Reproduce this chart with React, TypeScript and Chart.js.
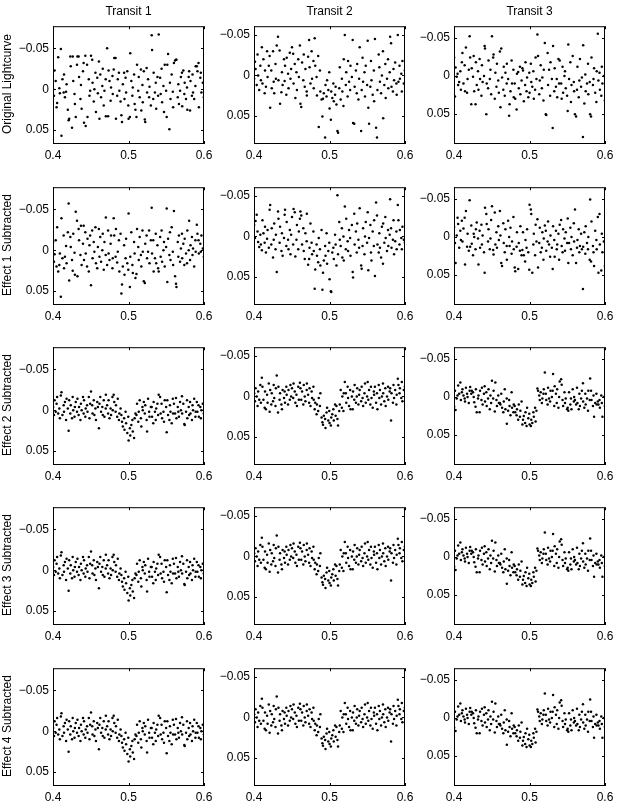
import React, { useEffect, useRef } from "react";
import { Chart, registerables } from "chart.js";

Chart.register(...registerables);

// ---------------- DATA ----------------
const COLUMN_TITLES = ["Transit 1", "Transit 2", "Transit 3"];
const ROW_LABELS = [
  "Original Lightcurve",
  "Effect 1 Subtracted",
  "Effect 2 Subtracted",
  "Effect 3 Subtracted",
  "Effect 4 Subtracted",
];
const X_TICKS = [0.4, 0.5, 0.6];
const Y_TICKS = [-0.05, 0, 0.05];
const Y_MIN = [-0.077, -0.061, -0.065];
const Y_MAX = [0.067, 0.085, 0.089];

// sample phase (shared time stamps)
const TIME = [
  0.4002, 0.4013, 0.4021, 0.4036, 0.4047, 0.4055, 0.4069, 0.4084, 0.4091,
  0.4104, 0.4112, 0.4125, 0.4141, 0.4146, 0.4158, 0.4173, 0.418, 0.4196,
  0.4207, 0.4214, 0.4229, 0.4235, 0.4252, 0.4261, 0.4268, 0.4285, 0.429,
  0.4301, 0.4318, 0.4324, 0.4339, 0.4345, 0.4363, 0.437, 0.4379, 0.4397,
  0.4406, 0.4411, 0.4428, 0.4433, 0.4451, 0.4457, 0.4474, 0.4483, 0.4492,
  0.4503, 0.4519, 0.4524, 0.454, 0.4548, 0.4562, 0.4569, 0.4586, 0.4594,
  0.4608, 0.4615, 0.4626, 0.4637, 0.4653, 0.4659, 0.4672, 0.4681, 0.4698,
  0.47, 0.4717, 0.473, 0.4736, 0.4748, 0.4763, 0.4769, 0.4787, 0.4791,
  0.4804, 0.4811, 0.4829, 0.4834, 0.485, 0.4858, 0.4873, 0.4879, 0.4895,
  0.4906, 0.4914, 0.4925, 0.4942, 0.4947, 0.4961, 0.4968, 0.4984, 0.4997,
  0.5001, 0.5018, 0.5023, 0.5037, 0.5051, 0.5057, 0.5074, 0.5081, 0.5092,
  0.5105, 0.5113, 0.5129, 0.5136, 0.5148, 0.5164, 0.517, 0.5185, 0.5189,
  0.5203, 0.5216, 0.5222, 0.524, 0.5246, 0.5259, 0.5273, 0.5278, 0.5296,
  0.5307, 0.5312, 0.5328, 0.5333, 0.535, 0.5361, 0.5367, 0.5383, 0.5392,
  0.54, 0.5419, 0.5426, 0.5438, 0.5445, 0.5463, 0.547, 0.548, 0.5498,
  0.5506, 0.5514, 0.5524, 0.5541, 0.5549, 0.5556, 0.5572, 0.5587, 0.5591,
  0.5602, 0.5617, 0.5629, 0.5635, 0.5652, 0.566, 0.5668, 0.5683, 0.5694,
  0.5708, 0.5711, 0.5726, 0.5739, 0.5744, 0.5762, 0.5775, 0.5779, 0.5797,
  0.5803, 0.5815, 0.5821, 0.584, 0.5848, 0.5855, 0.587, 0.5886, 0.589,
  0.5905, 0.5913, 0.5927, 0.5932, 0.5951, 0.5958, 0.5966, 0.5984, 0.5998,
];

// Transit 1
const ORIG_T1 = [
  0.0, 0.008, -0.023, -0.01, 0.022, 0.017, -0.039, -0.001, 0.005,
  -0.049, 0.057, -0.012, 0.004, -0.018, 0.01, 0.003, -0.006, 0.025,
  0.038, 0.036, -0.04, -0.028, 0.047, -0.04, -0.01, 0.006, 0.018,
  0.034, -0.03, -0.04, -0.04, -0.015, 0.012, -0.005, 0.024, -0.022,
  -0.032, 0.041, -0.041, 0.045, -0.03, 0.034, -0.012, 0.008, 0.002,
  -0.041, -0.036, -0.008, 0.015, 0.0, -0.02, 0.028, -0.014, 0.005,
  -0.034, 0.036, -0.018, 0.01, -0.004, -0.025, 0.02, 0.002, -0.012,
  0.033, -0.05, 0.033, -0.023, -0.01, 0.014, -0.002, -0.016, 0.006,
  -0.024, -0.038, -0.038, 0.036, 0.008, -0.012, -0.02, 0.002, 0.015,
  0.032, 0.04, -0.006, -0.02, 0.012, -0.014, 0.004, -0.022, 0.02,
  0.036, 0.034, -0.044, -0.01, 0.008, -0.002, -0.018, 0.018, 0.025,
  0.034, -0.03, 0.002, -0.015, 0.01, -0.024, 0.026, -0.005, 0.016,
  -0.022, 0.037, 0.04, -0.026, 0.004, -0.012, 0.01, -0.003, 0.02,
  -0.066, -0.048, 0.012, -0.02, 0.004, -0.008, 0.024, -0.015, 0.008,
  -0.067, -0.014, 0.006, -0.025, 0.016, -0.004, 0.028, -0.03, 0.002,
  0.034, -0.03, -0.043, 0.049, -0.008, 0.012, -0.018, 0.003, 0.022,
  -0.032, -0.035, -0.036, -0.036, 0.01, -0.006, 0.018, 0.002, -0.015,
  -0.02, 0.021, -0.023, 0.006, -0.008, 0.012, -0.002, 0.025, -0.015,
  -0.022, 0.026, -0.01, 0.008, -0.018, 0.004, 0.012, -0.004, -0.028,
  -0.028, -0.022, -0.032, 0.022, -0.014, -0.02, 0.004, -0.008, 0.01,
];
const EFF1_T1 = [
  -0.01, 0.014, 0.005, -0.012, 0.02, -0.028, 0.026, 0.018, 0.004,
  0.057, -0.039, 0.01, -0.018, 0.022, 0.008, -0.005, 0.016, -0.022,
  -0.057, 0.037, -0.016, -0.004, 0.012, 0.025, -0.02, 0.003, 0.03,
  -0.047, -0.036, 0.032, -0.026, -0.012, 0.006, -0.03, 0.018, -0.008,
  -0.03, 0.012, -0.022, 0.004, 0.02, -0.014, 0.026, -0.006, -0.018,
  0.043, -0.024, 0.01, -0.01, 0.002, -0.028, 0.016, 0.022, -0.004,
  -0.026, 0.008, -0.016, 0.014, 0.0, -0.02, 0.024, -0.01, 0.006,
  -0.04, 0.018, -0.024, 0.004, 0.012, -0.008, -0.018, 0.022, 0.01,
  -0.039, -0.018, 0.008, -0.026, 0.015, 0.002, -0.012, 0.026, -0.02,
  0.053, 0.042, 0.02, -0.006, 0.03, 0.01, -0.014, 0.016, 0.024,
  -0.045, 0.045, 0.008, -0.022, 0.018, 0.028, -0.01, 0.004, 0.034,
  0.029, -0.026, -0.004, 0.012, -0.016, 0.006, 0.02, -0.024, 0.002,
  0.038, 0.04, -0.008, -0.018, 0.01, 0.002, -0.024, 0.016, -0.012,
  -0.052, 0.004, -0.012, 0.026, 0.01, -0.02, 0.016, -0.006, 0.022,
  0.026, -0.016, 0.008, -0.024, 0.014, 0.0, -0.01, 0.02, -0.004,
  -0.051, 0.039, -0.014, 0.006, -0.022, 0.012, -0.028, 0.002, 0.018,
  -0.048, 0.032, 0.041, 0.045, -0.01, 0.008, -0.018, 0.014, -0.002,
  -0.02, 0.01, -0.008, 0.018, -0.014, 0.004, 0.016, -0.024, 0.0,
  -0.036, 0.012, -0.006, -0.016, 0.006, -0.002, 0.02, -0.012, 0.002,
  -0.031, -0.02, -0.012, 0.004, -0.008, 0.002, -0.018, -0.002, 0.008,
];
const EFF2_T1 = [
  -0.004, 0.006, -0.012, 0.002, -0.008, -0.016, 0.004, -0.002, 0.01,
  -0.018, -0.022, 0.006, -0.006, 0.002, -0.01, 0.012, -0.014, -0.002,
  0.025, -0.012, 0.004, -0.006, 0.01, -0.016, 0.0, 0.008, -0.004,
  -0.01, 0.002, -0.014, 0.006, -0.004, 0.012, -0.008, 0.0, -0.016,
  0.004, -0.012, 0.008, -0.002, -0.006, 0.002, -0.016, 0.01, -0.008,
  -0.023, -0.006, 0.004, -0.012, 0.006, -0.002, 0.012, -0.01, -0.004,
  0.022, -0.008, -0.016, 0.002, -0.004, 0.006, -0.012, 0.008, -0.002,
  -0.019, -0.006, 0.004, -0.012, 0.01, -0.002, 0.006, -0.016, 0.0,
  -0.019, -0.01, 0.002, -0.006, 0.008, -0.014, 0.012, 0.004, -0.002,
  0.006, 0.014, 0.02, 0.01, 0.024, 0.002, 0.016, 0.028, 0.008,
  0.037, 0.022, 0.031, 0.018, 0.012, 0.026, 0.034, 0.01, 0.004,
  0.006, -0.008, 0.014, 0.002, -0.012, 0.01, 0.02, -0.004, 0.0,
  -0.01, 0.004, -0.006, 0.012, 0.026, -0.014, 0.002, 0.008, -0.004,
  -0.004, 0.008, 0.016, -0.01, 0.002, 0.012, -0.002, -0.008, 0.006,
  -0.019, -0.016, 0.004, -0.008, 0.01, 0.002, 0.014, -0.012, -0.004,
  0.027, -0.012, 0.006, 0.012, -0.006, 0.002, 0.016, -0.014, 0.004,
  -0.008, 0.004, -0.015, 0.01, -0.004, 0.002, 0.008, -0.01, 0.0,
  -0.017, 0.004, -0.008, 0.017, 0.018, 0.002, -0.012, 0.01, -0.004,
  0.006, -0.01, 0.004, 0.012, -0.006, 0.0, -0.014, 0.008, 0.002,
  -0.01, 0.002, -0.006, 0.008, -0.004, 0.01, 0.0, -0.008, 0.004,
];

// Transit 2
const ORIG_T2 = [
  0.004, -0.017, -0.008, 0.012, -0.026, 0.0, 0.018, -0.012, 0.006,
  -0.035, 0.01, -0.02, 0.022, -0.006, 0.014, -0.03, 0.002, -0.012,
  -0.024, 0.04, -0.006, 0.016, -0.03, 0.008, 0.022, -0.014, 0.004,
  -0.037, -0.048, 0.006, -0.031, 0.035, 0.021, -0.004, 0.012, -0.02,
  0.007, -0.012, 0.024, -0.022, -0.002, 0.016, -0.028, 0.004, -0.008,
  -0.035, -0.027, 0.01, -0.014, 0.028, -0.004, 0.018, -0.02, 0.002,
  -0.037, 0.035, 0.039, -0.016, 0.006, -0.026, 0.014, -0.008, 0.02,
  0.025, -0.023, -0.044, -0.01, 0.01, -0.03, 0.004, -0.018, 0.016,
  -0.046, -0.012, 0.002, 0.025, -0.024, 0.064, -0.006, 0.02, 0.03,
  0.051, 0.029, 0.022, 0.077, 0.012, 0.026, 0.006, 0.018, -0.004,
  0.041, 0.055, 0.02, 0.028, 0.01, 0.032, 0.024, 0.014, 0.036,
  0.069, 0.071, 0.016, -0.01, 0.03, 0.004, 0.02, 0.038, -0.02,
  -0.05, 0.012, -0.004, 0.026, -0.018, 0.008, 0.018, -0.012, 0.002,
  -0.044, 0.059, 0.06, 0.014, -0.006, 0.022, -0.014, 0.03, 0.004,
  -0.035, 0.069, 0.018, -0.022, 0.008, -0.004, 0.026, -0.012, 0.012,
  -0.043, 0.04, 0.06, 0.014, -0.018, 0.006, 0.024, -0.006, 0.032,
  -0.045, 0.065, 0.077, 0.018, -0.026, -0.01, 0.008, 0.022, 0.0,
  -0.03, 0.053, 0.012, -0.014, 0.028, 0.004, -0.02, 0.016, -0.004,
  -0.048, -0.04, 0.014, 0.02, -0.008, 0.006, -0.016, 0.01, 0.024,
  -0.05, 0.008, -0.012, 0.004, -0.002, 0.02, -0.018, 0.01, -0.006,
];
const EFF1_T2 = [
  -0.014, 0.002, -0.019, -0.027, -0.006, 0.007, 0.013, -0.002, 0.01,
  0.017, -0.02, -0.004, 0.008, -0.012, 0.02, 0.003, -0.008, 0.014,
  -0.033, -0.039, 0.01, -0.01, 0.026, 0.004, -0.016, 0.016, -0.002,
  0.044, -0.031, -0.022, 0.008, -0.012, 0.018, -0.004, 0.024, 0.002,
  -0.027, -0.033, 0.012, -0.018, 0.004, 0.016, -0.008, 0.022, -0.002,
  -0.024, 0.01, -0.034, -0.03, 0.025, 0.004, -0.014, 0.016, -0.006,
  -0.022, -0.031, -0.026, 0.01, -0.01, 0.018, 0.028, -0.004, 0.006,
  -0.028, 0.035, 0.028, 0.014, -0.016, 0.008, 0.022, -0.006, 0.018,
  0.065, 0.041, 0.01, 0.024, 0.032, 0.002, 0.016, 0.036, -0.008,
  0.066, 0.045, 0.03, 0.012, 0.024, -0.004, 0.034, 0.018, 0.008,
  0.053, 0.068, 0.069, 0.02, 0.014, 0.028, -0.002, 0.01, 0.036,
  -0.051, 0.022, -0.018, 0.004, 0.012, -0.01, 0.026, 0.0, 0.03,
  -0.037, 0.016, -0.022, 0.006, 0.018, -0.008, 0.002, 0.024, -0.014,
  0.044, 0.051, -0.028, 0.01, -0.006, 0.02, -0.016, 0.004, 0.014,
  -0.035, 0.036, 0.04, 0.012, -0.01, 0.022, 0.0, -0.018, 0.008,
  -0.03, 0.042, 0.002, -0.014, 0.02, 0.03, -0.006, 0.012, -0.02,
  0.049, -0.042, -0.026, 0.01, 0.02, -0.004, 0.014, 0.026, -0.012,
  0.034, -0.016, 0.008, -0.024, 0.002, 0.018, -0.008, 0.012, -0.002,
  -0.046, -0.01, 0.014, 0.004, -0.02, 0.022, 0.006, -0.006, 0.016,
  -0.039, -0.02, 0.01, -0.008, 0.002, 0.016, -0.012, 0.004, 0.008,
];
const EFF2_T2 = [
  -0.004, 0.006, -0.01, 0.0, 0.012, -0.006, 0.004, -0.014, 0.008,
  -0.023, -0.012, 0.004, 0.014, -0.006, 0.016, -0.002, 0.008, -0.016,
  0.019, -0.008, 0.01, -0.004, 0.006, -0.014, 0.002, 0.012, -0.01,
  -0.026, 0.02, -0.012, 0.004, -0.004, 0.01, 0.016, -0.008, 0.002,
  -0.006, 0.008, -0.012, -0.002, 0.01, -0.008, 0.004, -0.014, 0.0,
  -0.01, 0.002, -0.016, -0.006, 0.008, -0.002, 0.012, -0.012, 0.004,
  -0.017, -0.01, 0.004, -0.006, 0.01, -0.014, 0.0, 0.006, -0.008,
  -0.016, -0.002, 0.008, -0.01, 0.012, -0.006, 0.002, -0.012, 0.004,
  0.016, 0.008, 0.022, 0.01, 0.018, 0.002, 0.012, -0.004, 0.026,
  0.032, 0.035, 0.024, 0.028, 0.039, 0.02, 0.014, 0.03, 0.018,
  0.033, 0.036, 0.026, 0.022, 0.016, 0.03, 0.01, 0.024, 0.012,
  0.028, 0.036, 0.018, 0.01, -0.008, 0.014, 0.0, 0.018, -0.004,
  -0.018, -0.004, 0.008, -0.012, 0.002, 0.012, -0.008, 0.016, 0.0,
  0.016, -0.006, 0.004, -0.014, 0.008, 0.0, -0.01, 0.01, -0.002,
  -0.008, 0.006, -0.012, 0.002, 0.012, -0.004, -0.016, 0.008, 0.0,
  -0.018, 0.004, -0.008, 0.01, -0.012, 0.002, 0.014, -0.006, -0.002,
  -0.012, 0.008, -0.004, 0.016, -0.014, 0.002, -0.008, 0.01, 0.0,
  -0.016, -0.004, 0.006, -0.01, 0.012, 0.0, -0.012, 0.004, -0.006,
  -0.01, 0.03, -0.004, 0.008, -0.014, 0.002, -0.008, 0.01, -0.002,
  -0.022, -0.014, -0.004, -0.01, 0.002, -0.018, 0.006, -0.008, -0.012,
];

// Transit 3
const ORIG_T3 = [
  -0.024, 0.027, -0.011, 0.001, -0.003, 0.012, 0.008, -0.006, 0.018,
  -0.018, -0.03, 0.01, -0.014, 0.02, -0.037, 0.022, 0.004, -0.008,
  -0.052, -0.024, 0.037, -0.01, 0.001, -0.026, 0.02, 0.037, -0.018,
  0.012, -0.006, 0.018, -0.022, 0.004, 0.026, -0.014, 0.008, 0.0,
  -0.039, -0.036, 0.05, 0.01, 0.016, -0.02, 0.004, -0.008, 0.024,
  -0.052, -0.024, -0.028, 0.03, -0.004, 0.014, -0.016, 0.006, 0.022,
  -0.032, 0.041, -0.036, 0.002, 0.018, -0.012, 0.026, -0.004, 0.01,
  -0.016, 0.004, 0.052, 0.037, 0.02, -0.02, 0.01, -0.008, 0.028,
  0.01, 0.03, 0.044, -0.003, -0.005, 0.016, -0.012, 0.024, 0.006,
  -0.01, -0.007, 0.033, 0.012, -0.018, 0.02, 0.002, 0.028, -0.004,
  0.022, -0.016, 0.008, 0.014, -0.006, 0.03, 0.018, -0.024, 0.004,
  -0.054, -0.026, 0.024, 0.006, -0.014, 0.016, 0.002, 0.032, -0.008,
  -0.043, 0.05, 0.051, -0.03, 0.012, -0.008, 0.026, -0.018, 0.004,
  0.068, -0.039, 0.02, -0.01, 0.014, 0.004, 0.028, -0.022, 0.01,
  -0.02, 0.01, 0.03, -0.012, 0.022, 0.0, -0.006, 0.016, 0.026,
  0.046, -0.041, 0.004, -0.018, 0.034, 0.012, -0.026, 0.008, 0.02,
  0.05, 0.053, 0.018, -0.012, 0.028, 0.006, -0.022, 0.014, 0.002,
  0.08, -0.04, 0.036, -0.002, 0.02, 0.01, -0.016, 0.024, 0.008,
  0.05, 0.053, -0.024, 0.012, 0.004, -0.01, 0.022, 0.034, -0.006,
  -0.055, 0.006, -0.004, 0.018, 0.026, -0.012, 0.01, 0.0, 0.032,
];
const EFF1_T3 = [
  -0.013, 0.008, 0.034, -0.002, -0.025, -0.017, 0.014, -0.008, 0.004,
  -0.021, 0.006, -0.011, -0.025, 0.036, -0.034, 0.013, -0.004, 0.018,
  -0.048, 0.013, -0.015, 0.009, 0.024, -0.004, 0.0, 0.016, -0.01,
  -0.019, 0.002, 0.036, -0.008, 0.014, -0.016, 0.01, -0.002, 0.02,
  0.047, -0.038, -0.03, -0.017, 0.006, -0.01, 0.016, 0.002, -0.022,
  -0.04, 0.017, 0.023, -0.032, 0.01, -0.006, 0.014, -0.014, 0.004,
  -0.034, -0.002, 0.034, 0.038, -0.018, 0.008, 0.02, -0.01, 0.012,
  0.03, -0.021, 0.0, 0.012, -0.012, 0.022, 0.006, -0.026, 0.016,
  0.04, 0.045, 0.013, -0.006, 0.042, 0.008, 0.018, -0.014, 0.024,
  0.017, -0.006, 0.024, 0.032, 0.004, 0.014, -0.01, 0.02, 0.043,
  -0.042, -0.036, -0.03, 0.047, 0.01, -0.004, 0.024, -0.016, 0.006,
  -0.023, 0.04, 0.008, -0.012, 0.02, 0.014, -0.006, 0.03, 0.002,
  -0.015, -0.008, 0.018, 0.006, -0.02, 0.01, 0.026, -0.002, 0.014,
  0.042, -0.014, 0.004, 0.026, -0.008, 0.016, 0.01, -0.004, 0.03,
  -0.016, -0.022, 0.012, 0.02, -0.01, 0.002, 0.018, -0.006, 0.008,
  -0.024, 0.034, 0.008, -0.012, 0.016, 0.0, 0.024, -0.018, 0.006,
  -0.036, 0.034, 0.014, 0.004, -0.01, 0.02, 0.012, -0.004, 0.016,
  0.068, 0.013, -0.006, 0.022, -0.014, 0.008, 0.016, 0.0, 0.03,
  -0.049, 0.032, -0.02, 0.012, 0.02, 0.038, -0.008, 0.004, 0.016,
  -0.026, 0.047, -0.03, 0.01, 0.044, -0.004, 0.02, 0.006, 0.038,
];
const EFF2_T3 = [
  0.013, -0.008, 0.017, 0.002, -0.002, -0.015, -0.004, -0.019, 0.004,
  -0.006, -0.01, -0.002, 0.002, 0.006, -0.012, -0.004, 0.0, 0.008,
  -0.008, -0.013, -0.004, -0.008, -0.006, 0.0, 0.007, 0.013, -0.01,
  0.02, 0.002, -0.002, 0.02, -0.008, 0.004, -0.012, 0.01, -0.004,
  -0.014, 0.006, -0.006, 0.012, 0.002, -0.01, 0.016, -0.002, 0.008,
  -0.021, 0.002, -0.008, 0.019, -0.019, 0.004, 0.012, -0.002, 0.008,
  0.008, 0.01, -0.004, 0.014, 0.02, 0.006, -0.01, 0.016, 0.002,
  0.035, 0.018, 0.004, 0.012, 0.024, -0.006, 0.014, 0.02, 0.01,
  0.012, 0.02, 0.024, 0.016, 0.03, 0.01, 0.026, 0.018, 0.006,
  0.036, 0.03, 0.025, 0.034, 0.02, 0.038, 0.014, 0.028, 0.022,
  0.036, 0.038, 0.03, 0.034, 0.02, 0.026, 0.014, 0.032, 0.018,
  -0.011, -0.008, -0.002, 0.004, -0.006, 0.008, 0.002, -0.004, -0.01,
  -0.032, -0.004, 0.004, 0.01, -0.012, 0.002, 0.006, -0.008, 0.0,
  -0.008, -0.03, 0.012, -0.014, -0.004, 0.008, -0.01, 0.014, 0.0,
  -0.02, -0.023, -0.016, 0.004, 0.012, -0.006, 0.008, 0.002, 0.016,
  0.014, 0.018, -0.006, 0.01, 0.002, 0.016, -0.01, 0.006, 0.0,
  0.004, 0.01, -0.012, 0.008, 0.016, -0.004, 0.012, 0.002, -0.008,
  -0.018, 0.006, 0.014, -0.004, 0.01, 0.002, 0.018, -0.008, 0.004,
  -0.024, -0.008, 0.004, 0.012, -0.002, 0.026, 0.008, -0.004, 0.01,
  0.006, 0.01, 0.004, 0.014, -0.002, 0.008, 0.026, 0.0, 0.012,
];
// Effects 3 and 4 leave the curves practically unchanged from Effect 2
const EFF3_T1 = EFF2_T1;
const EFF3_T2 = EFF2_T2;
const EFF3_T3 = EFF2_T3;
const EFF4_T1 = EFF2_T1;
const EFF4_T2 = EFF2_T2;
const EFF4_T3 = EFF2_T3;

const SERIES = [
  [ORIG_T1, ORIG_T2, ORIG_T3],
  [EFF1_T1, EFF1_T2, EFF1_T3],
  [EFF2_T1, EFF2_T2, EFF2_T3],
  [EFF3_T1, EFF3_T2, EFF3_T3],
  [EFF4_T1, EFF4_T2, EFF4_T3],
];

// ---------------- LAYOUT ----------------
const FONT = "'Liberation Sans', Arial, Helvetica, sans-serif";
const BOX_LEFT = [53, 254, 454];
const BOX_TOP = [23, 184, 344, 504, 665];
const BOX_W = 151;
const BOX_H = 121;
const YW = 50;
const PT = 8;
const PR = 14;
const XH = 24;

const boxPlugin = {
  id: "matlabBox",
  afterDraw(chart: any) {
    const { ctx, chartArea, scales } = chart;
    const { left, top, right, bottom } = chartArea;
    ctx.save();
    ctx.strokeStyle = "#000";
    ctx.lineWidth = 1;
    ctx.strokeRect(left + 0.5, top + 0.5, right - left - 1, bottom - top - 1);
    const tl = 3;
    ctx.beginPath();
    for (const v of X_TICKS) {
      const px = Math.round(scales.x.getPixelForValue(v)) + 0.5;
      ctx.moveTo(px, bottom);
      ctx.lineTo(px, bottom - tl);
      ctx.moveTo(px, top);
      ctx.lineTo(px, top + tl);
    }
    for (const v of Y_TICKS) {
      const py = Math.round(scales.y.getPixelForValue(v)) + 0.5;
      ctx.moveTo(left, py);
      ctx.lineTo(left + tl, py);
      ctx.moveTo(right, py);
      ctx.lineTo(right - tl, py);
    }
    ctx.stroke();
    ctx.restore();
  },
};

function Panel({ values, col, left, top }: any) {
  const ref = useRef<HTMLCanvasElement>(null);
  useEffect(() => {
    const chart = new Chart(ref.current as HTMLCanvasElement, {
      type: "scatter",
      data: {
        datasets: [
          {
            data: TIME.map((t, i) => ({ x: t, y: values[i] })),
            pointRadius: 1.25,
            pointHoverRadius: 1.25,
            pointStyle: "circle",
            backgroundColor: "#000",
            borderColor: "#000",
            borderWidth: 0,
          },
        ],
      },
      options: {
        animation: false,
        responsive: false,
        devicePixelRatio: 1,
        events: [],
        layout: { padding: { left: 0, top: PT, right: PR, bottom: 0 } },
        plugins: { legend: { display: false }, tooltip: { enabled: false } },
        scales: {
          x: {
            type: "linear",
            min: 0.4,
            max: 0.6,
            afterBuildTicks: (s: any) => {
              s.ticks = X_TICKS.map((v) => ({ value: v }));
            },
            afterFit: (s: any) => {
              s.height = XH;
            },
            grid: { display: false, drawTicks: false },
            border: { display: false },
            ticks: {
              padding: 4,
              autoSkip: false,
              maxRotation: 0,
              color: "#000",
              font: { family: FONT, size: 12 },
              callback: (v: any) => Number(v).toFixed(1),
            },
          },
          y: {
            type: "linear",
            reverse: true,
            min: Y_MIN[col],
            max: Y_MAX[col],
            afterBuildTicks: (s: any) => {
              s.ticks = Y_TICKS.map((v) => ({ value: v }));
            },
            afterFit: (s: any) => {
              s.width = YW;
            },
            grid: { display: false, drawTicks: false },
            border: { display: false },
            ticks: {
              padding: 4,
              autoSkip: false,
              color: "#000",
              font: { family: FONT, size: 12 },
              callback: (v: any) => {
                const n = Number(v);
                if (Math.abs(n) < 1e-9) return "0";
                return (n < 0 ? "\u2212" : "") + Math.abs(n).toFixed(2);
              },
            },
          },
        },
      },
      plugins: [boxPlugin],
    } as any);
    return () => chart.destroy();
  }, [values, col]);
  return (
    <canvas
      ref={ref}
      width={YW + BOX_W + PR}
      height={PT + BOX_H + XH}
      style={{ position: "absolute", left: left - YW, top: top - PT }}
    />
  );
}

export default function App() {
  return (
    <div
      style={{
        position: "absolute",
        left: 0,
        top: 0,
        width: 620,
        height: 803,
        background: "#fff",
        fontFamily: FONT,
        color: "#000",
        overflow: "hidden",
      }}
    >
      {SERIES.map((row, r) =>
        row.map((vals, c) => (
          <Panel
            key={r + "-" + c}
            values={vals}
            col={c}
            left={BOX_LEFT[c]}
            top={BOX_TOP[r]}
          />
        ))
      )}
      {COLUMN_TITLES.map((t, c) => (
        <div
          key={t}
          style={{
            position: "absolute",
            left: BOX_LEFT[c] + BOX_W / 2,
            top: 10.5,
            transform: "translate(-50%, -50%)",
            fontSize: 12,
            lineHeight: "14px",
            whiteSpace: "nowrap",
          }}
        >
          {t}
        </div>
      ))}
      {ROW_LABELS.map((t, r) => (
        <div
          key={t}
          style={{
            position: "absolute",
            left: 7,
            top: BOX_TOP[r] + BOX_H / 2,
            transform: "translate(-50%, -50%) rotate(-90deg)",
            fontSize: 12,
            lineHeight: "14px",
            whiteSpace: "nowrap",
          }}
        >
          {t}
        </div>
      ))}
    </div>
  );
}
